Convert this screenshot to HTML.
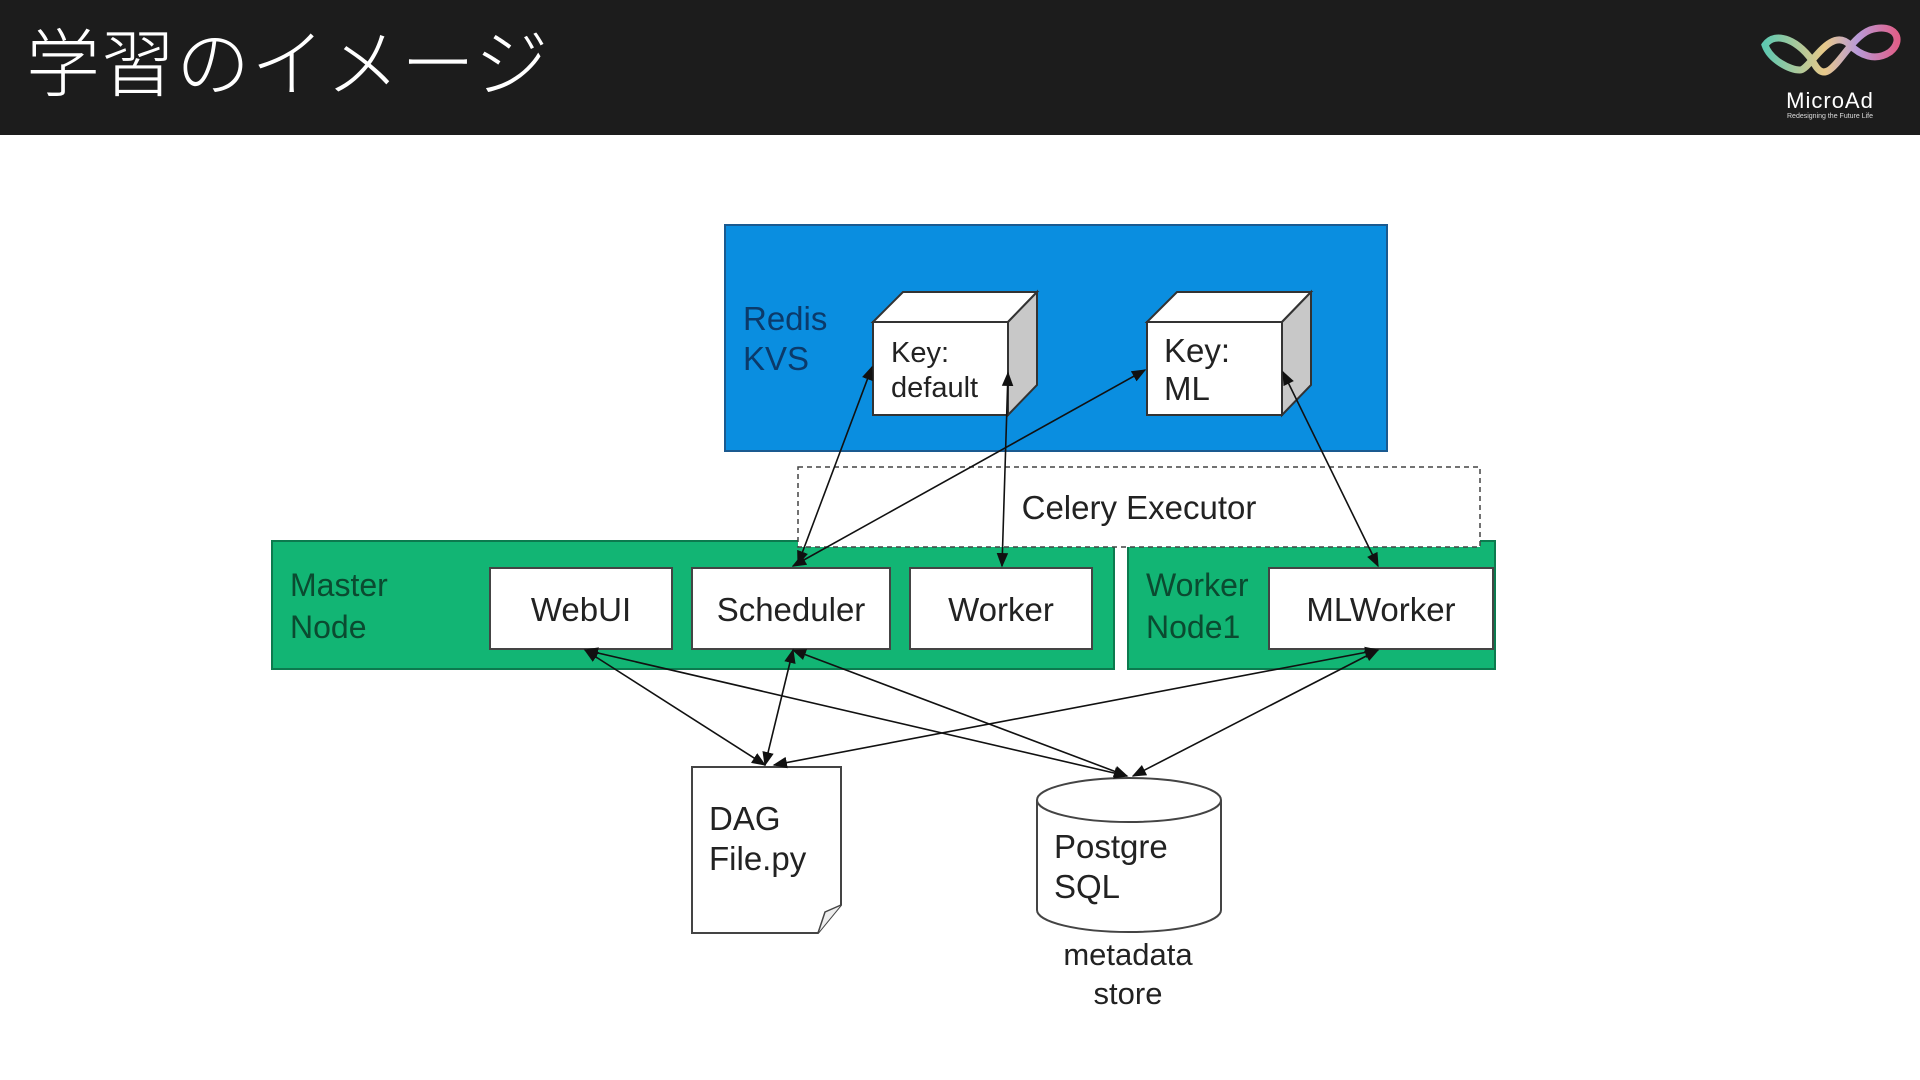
<!DOCTYPE html>
<html><head><meta charset="utf-8"><style>
html,body{margin:0;padding:0;background:#fff;}
body{width:1920px;height:1080px;overflow:hidden;position:relative;font-family:"Liberation Sans","Noto Sans CJK JP",sans-serif;}
.hdr{position:absolute;left:0;top:0;width:1920px;height:135px;background:#1c1c1c;}
.title{position:absolute;left:26px;top:22px;color:#fff;font-size:74px;font-family:"Noto Sans CJK JP",sans-serif;font-weight:300;letter-spacing:1px;line-height:1;}
</style></head><body>
<div class="hdr"><div class="title">学習のイメージ</div></div>
<svg width="1920" height="1080" style="position:absolute;left:0;top:0" font-family="Liberation Sans, sans-serif">
<defs>
<linearGradient id="lg" x1="0" x2="1"><stop offset="0" stop-color="#5fc8b0"/><stop offset="0.45" stop-color="#e8c98a"/><stop offset="0.7" stop-color="#b89ad8"/><stop offset="1" stop-color="#e0608a"/></linearGradient>
<marker id="a" viewBox="0 0 10 10" refX="9" refY="5" markerWidth="9" markerHeight="9" orient="auto-start-reverse"><path d="M0,1 L10,5 L0,9 z" fill="#111"/></marker>
</defs>
<!-- logo -->
<path d="M1765,45 C1775,30 1800,40 1815,65 C1830,90 1845,40 1870,30 C1895,22 1905,40 1890,52 C1875,62 1860,55 1850,45 C1830,25 1810,70 1800,70 C1790,70 1770,60 1765,45 Z" fill="none" stroke="url(#lg)" stroke-width="7"/>
<text x="1830" y="108" fill="#fff" font-size="22" text-anchor="middle" letter-spacing="1">MicroAd</text>
<text x="1830" y="118" fill="#ddd" font-size="7" text-anchor="middle">Redesigning the Future Life</text>

<!-- Redis -->
<rect x="725" y="225" width="662" height="226" fill="#0a8ee0" stroke="#1a5a90" stroke-width="2"/>
<text x="743" y="330" font-size="33" fill="#0b3a6a">Redis</text>
<text x="743" y="370" font-size="33" fill="#0b3a6a">KVS</text>
<g stroke="#333" stroke-width="2">
<polygon points="873,322 903,292 1037,292 1008,322" fill="#fff"/>
<polygon points="1008,322 1037,292 1037,385 1008,415" fill="#c8c8c8"/>
<rect x="873" y="322" width="135" height="93" fill="#fff"/>
<polygon points="1147,322 1177,292 1311,292 1282,322" fill="#fff"/>
<polygon points="1282,322 1311,292 1311,385 1282,415" fill="#c8c8c8"/>
<rect x="1147" y="322" width="135" height="93" fill="#fff"/>
</g>
<text x="891" y="362" font-size="29" fill="#222">Key:</text>
<text x="891" y="397" font-size="29" fill="#222">default</text>
<text x="1164" y="362" font-size="33" fill="#222">Key:</text>
<text x="1164" y="400" font-size="33" fill="#222">ML</text>

<!-- green -->
<rect x="272" y="541" width="842" height="128" fill="#12b574" stroke="#0c7a4e" stroke-width="2"/>
<rect x="1128" y="541" width="367" height="128" fill="#12b574" stroke="#0c7a4e" stroke-width="2"/>
<!-- celery -->
<rect x="798" y="467" width="682" height="80" fill="#fff" stroke="#444" stroke-width="1.5" stroke-dasharray="5,4"/>
<text x="1139" y="519" font-size="33" fill="#222" text-anchor="middle">Celery Executor</text>
<text x="290" y="596" font-size="32" fill="#0b4a30">Master</text>
<text x="290" y="638" font-size="32" fill="#0b4a30">Node</text>
<text x="1146" y="596" font-size="32" fill="#0b4a30">Worker</text>
<text x="1146" y="638" font-size="32" fill="#0b4a30">Node1</text>
<g fill="#fff" stroke="#444" stroke-width="2">
<rect x="490" y="568" width="182" height="81"/>
<rect x="692" y="568" width="198" height="81"/>
<rect x="910" y="568" width="182" height="81"/>
<rect x="1269" y="568" width="224" height="81"/>
</g>
<g font-size="33" fill="#222" text-anchor="middle">
<text x="581" y="621">WebUI</text>
<text x="791" y="621">Scheduler</text>
<text x="1001" y="621">Worker</text>
<text x="1381" y="621">MLWorker</text>
</g>

<!-- DAG -->
<path d="M692,767 L841,767 L841,905 L818,933 L692,933 Z" fill="#fff" stroke="#444" stroke-width="2"/>
<path d="M841,905 L825,912 L818,933" fill="#eee" stroke="#444" stroke-width="1.5"/>
<text x="709" y="830" font-size="33" fill="#222">DAG</text>
<text x="709" y="870" font-size="33" fill="#222">File.py</text>
<!-- cylinder -->
<path d="M1037,800 L1037,910 A92,22 0 0 0 1221,910 L1221,800" fill="#fff" stroke="#444" stroke-width="2"/>
<ellipse cx="1129" cy="800" rx="92" ry="22" fill="#fff" stroke="#444" stroke-width="2"/>
<text x="1054" y="858" font-size="33" fill="#222">Postgre</text>
<text x="1054" y="898" font-size="33" fill="#222">SQL</text>
<text x="1128" y="965" font-size="31" fill="#222" text-anchor="middle">metadata</text>
<text x="1128" y="1004" font-size="31" fill="#222" text-anchor="middle">store</text>

<!-- arrows -->
<g stroke="#111" stroke-width="1.6" fill="none" marker-start="url(#a)" marker-end="url(#a)">
<line x1="798" y1="564" x2="872" y2="367"/>
<line x1="793" y1="566" x2="1145" y2="370"/>
<line x1="1002" y1="566" x2="1008" y2="373"/>
<line x1="1378" y1="566" x2="1283" y2="372"/>
<line x1="585" y1="650" x2="765" y2="765"/>
<line x1="585" y1="650" x2="1127" y2="776"/>
<line x1="793" y1="650" x2="765" y2="765"/>
<line x1="793" y1="650" x2="1127" y2="776"/>
<line x1="1378" y1="650" x2="774" y2="765"/>
<line x1="1378" y1="650" x2="1133" y2="776"/>
</g>
</svg>
</body></html>
